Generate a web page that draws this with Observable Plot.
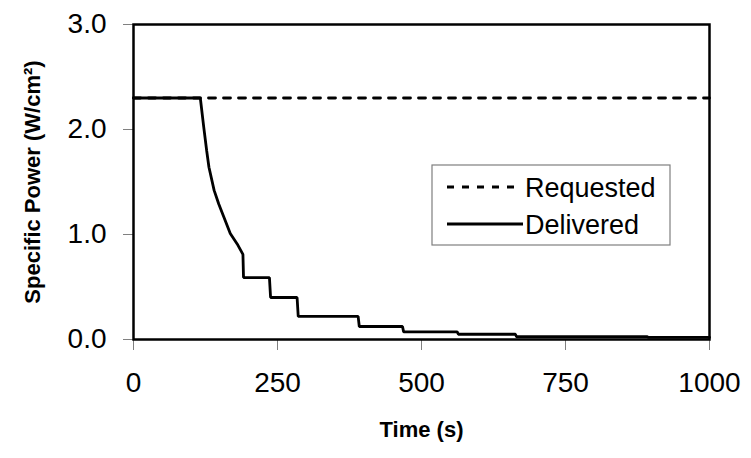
<!DOCTYPE html>
<html>
<head>
<meta charset="utf-8">
<script src="https://cdn.jsdelivr.net/npm/d3@7"></script>
<script src="https://cdn.jsdelivr.net/npm/@observablehq/plot@0.6"></script>
<style>
  html, body { margin: 0; padding: 0; background: #fff; }
  #chart { width: 751px; height: 458px; }
</style>
</head>
<body>
<div id="chart"></div>
<script>
// Specific power delivered vs requested over time
const seriesNames = ["Requested", "Delivered"];

const requestedTime = [0, 1000];
const requestedPower = [2.3, 2.3];

const deliveredTime = [0, 116, 122, 127, 131, 140, 148, 157, 168, 180, 190, 191, 236, 238, 284, 286, 390, 392, 467, 469, 562, 564, 663, 665, 892, 894, 1000];
const deliveredPower = [2.30, 2.30, 2.02, 1.80, 1.64, 1.42, 1.29, 1.165, 1.01, 0.91, 0.81, 0.59, 0.59, 0.40, 0.40, 0.22, 0.22, 0.124, 0.124, 0.073, 0.073, 0.05, 0.05, 0.026, 0.026, 0.02, 0.02];

const xTicks = [0, 250, 500, 750, 1000];
const yTicks = [0, 1, 2, 3];

const requested = requestedTime.map((t, i) => ({t, p: requestedPower[i]}));
const delivered = deliveredTime.map((t, i) => ({t, p: deliveredPower[i]}));

const font = "'Liberation Sans', Arial, sans-serif";

const chart = Plot.plot({
  width: 751,
  height: 458,
  marginLeft: 133,
  marginRight: 42,
  marginTop: 24,
  marginBottom: 119,
  style: {fontFamily: font, fontSize: "28px", color: "#000", background: "#fff"},
  x: {domain: [0, 1000]},
  y: {domain: [0, 3]},
  marks: [
    Plot.axisX({ticks: xTicks, tickSize: 11, tickPadding: 22, stroke: "#808080", fill: "#000", label: null, tickFormat: d => String(d)}),
    Plot.axisY({ticks: yTicks, tickSize: 10, tickPadding: 17, stroke: "#808080", fill: "#000", label: null, tickFormat: d3.format(".1f")}),
    Plot.line(requested, {x: "t", y: "p", stroke: "#000", strokeWidth: 2.8, strokeDasharray: "7,8"}),
    Plot.line(delivered, {x: "t", y: "p", stroke: "#000", strokeWidth: 2.8, strokeLinejoin: "miter"}),
    Plot.frame({stroke: "#000", strokeWidth: 2.5}),
    Plot.text(["Time (s)"], {frameAnchor: "bottom", dy: 97, fontWeight: "bold", fontSize: 22, fill: "#000"}),
    Plot.text(["Specific Power (W/cm²)"], {frameAnchor: "left", textAnchor: "middle", dx: -101, rotate: -90, fontWeight: "bold", fontSize: 22, fill: "#000"})
  ]
});

document.getElementById("chart").appendChild(chart);

// Legend box inside the plot area
const svg = d3.select(chart);
const lg = svg.append("g").attr("transform", "translate(432,165)")
  .style("font-family", font).attr("text-anchor", "start");
lg.append("rect").attr("width", 238).attr("height", 80).attr("fill", "#fff").attr("stroke", "#7f7f7f").attr("stroke-width", 1.2);
const rows = [
  {name: seriesNames[0], dash: "7,8", y: 22},
  {name: seriesNames[1], dash: null, y: 59}
];
rows.forEach(r => {
  lg.append("line").attr("x1", 15).attr("x2", r.dash ? 88 : 91).attr("y1", r.y).attr("y2", r.y)
    .attr("stroke", "#000").attr("stroke-width", 2.8).attr("stroke-dasharray", r.dash);
  lg.append("text").attr("x", 93).attr("y", r.y).attr("dy", "0.36em")
    .attr("text-anchor", "start").attr("font-size", 27).attr("fill", "#000").text(r.name);
});
</script>
</body>
</html>
